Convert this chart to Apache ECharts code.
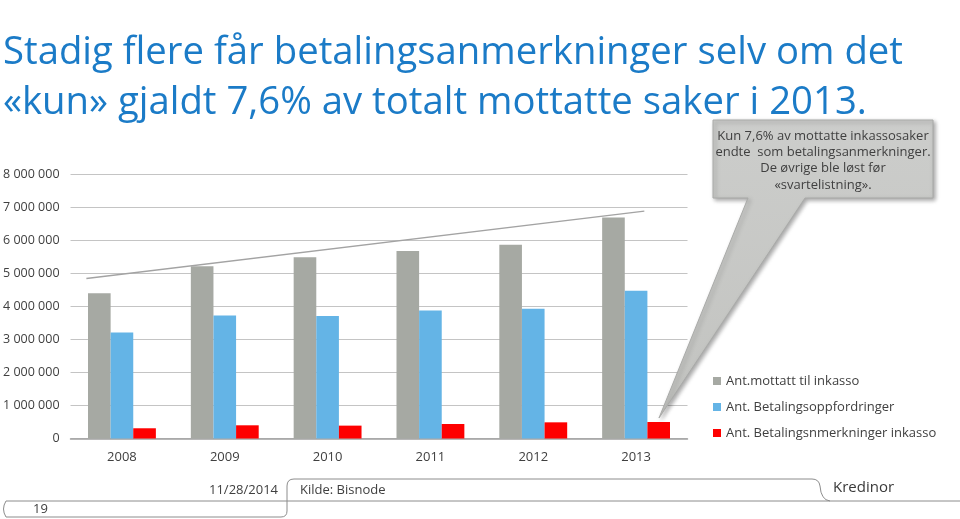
<!DOCTYPE html>
<html>
<head>
<meta charset="utf-8">
<script src="https://cdn.jsdelivr.net/npm/echarts@6/dist/echarts.min.js"></script>
<style>html,body{margin:0;padding:0;background:#fff;}#c{width:960px;height:519px;}</style>
</head>
<body>
<div id="c"></div>
<script>
const years = ['2008','2009','2010','2011','2012','2013'];
const mottatt = [4400000, 5220000, 5490000, 5680000, 5870000, 6700000];
const oppfordringer = [3210000, 3730000, 3710000, 3880000, 3930000, 4480000];
const anmerkninger = [310000, 400000, 390000, 440000, 490000, 500000];
const seriesNames = ['Ant.mottatt til inkasso', 'Ant. Betalingsoppfordringer', 'Ant. Betalingsnmerkninger inkasso'];
const trendLine = [[-0.346, 4850000], [5.08, 6890000]];
const titleLines = ['Stadig flere får betalingsanmerkninger selv om det', '«kun» gjaldt 7,6% av totalt mottatte saker i 2013.'];
const calloutLines = ['Kun 7,6% av mottatte inkassosaker', 'endte  som betalingsanmerkninger.', 'De øvrige ble løst før', '«svartelistning».'];

const FONT = '"Open Sans", "Noto Sans", sans-serif';
const txt = '#404040';
const colors = ['#a6a9a3', '#64b4e6', '#fe0000'];

const ctx = document.createElement('canvas').getContext('2d');
function fitSize(s, w) {
  ctx.font = '100px "Open Sans"';
  return Math.floor(100 * w / ctx.measureText(s).width * 10) / 10;
}
const titleSize = fitSize(titleLines[0], 902);

function fmt(v) {
  return String(v).replace(/\B(?=(\d{3})+(?!\d))/g, ' ');
}

const chart = echarts.init(document.getElementById('c'));
const graphics = [];
titleLines.forEach((t, i) => {
  graphics.push({type: 'text', x: 3, y: 34 + i * 50, style: {text: t, fill: '#1b7bc7', font: titleSize + 'px ' + FONT, textVerticalAlign: 'alphabetic'}});
});
// callout
graphics.push({
  type: 'polygon', z: 10,
  shape: {points: [[713,120],[933,120],[933,198],[805,198],[659,418],[748,198],[713,198]]},
  style: {fill: new echarts.graphic.LinearGradient(0,0,0,1,[{offset:0,color:'#cccdcb'},{offset:1,color:'#c2c3c0'}]), stroke: '#a9aaa8', lineWidth: 1, shadowBlur: 4, shadowOffsetX: 2, shadowOffsetY: 2, shadowColor: 'rgba(0,0,0,0.35)'}
});
calloutLines.forEach((t, i) => {
  graphics.push({type: 'text', z: 11, x: 823, y: 136 + i * 16.3, style: {text: t, fill: txt, font: '13px ' + FONT, textAlign: 'center', textVerticalAlign: 'middle'}});
});
// footer
const fs = {stroke: '#8c8c8c', lineWidth: 1, fill: null};
function ln(x1,y1,x2,y2){ graphics.push({type:'line', shape:{x1,y1,x2,y2}, style: fs}); }
function bz(x1,y1,cx,cy,x2,y2){ graphics.push({type:'bezierCurve', shape:{x1,y1,x2,y2,cpx1:cx,cpy1:cy}, style: fs}); }
ln(6,501,960,501);
bz(6,501,1,509,6,517);
ln(6,517,281,517);
bz(281,517,287,517,287,511);
ln(287,511,287,486);
bz(287,486,287,479,294,479);
ln(294,479,812,479);
bz(812,479,819,479,820,486);
bz(820,486,821,500,830,501);
graphics.push({type: 'text', x: 278, y: 490, style: {text: '11/28/2014', fill: txt, font: '13px ' + FONT, textAlign: 'right', textVerticalAlign: 'middle'}});
graphics.push({type: 'text', x: 300, y: 490, style: {text: 'Kilde: Bisnode', fill: txt, font: '13px ' + FONT, textAlign: 'left', textVerticalAlign: 'middle'}});
graphics.push({type: 'text', x: 33, y: 509, style: {text: '19', fill: txt, font: '13px ' + FONT, textAlign: 'left', textVerticalAlign: 'middle'}});
graphics.push({type: 'text', x: 833, y: 488, style: {text: 'Kredinor', fill: '#3a3a3a', font: '15px ' + FONT, textAlign: 'left', textVerticalAlign: 'middle'}});

chart.setOption({
  animation: false,
  textStyle: {fontFamily: FONT},
  grid: {left: 68.5, right: 272.5, top: 174.5, bottom: 80.5, containLabel: false},
  legend: {
    orient: 'vertical', left: 713, top: 372, padding: 0, itemGap: 8, itemWidth: 8, itemHeight: 8,
    icon: 'rect', data: seriesNames,
    textStyle: {color: txt, fontSize: 13, fontFamily: FONT, lineHeight: 18}
  },
  xAxis: [
    {type: 'category', data: years, axisLine: {lineStyle: {color: '#a0a0a0', width: 1.5}}, axisTick: {show: false},
     axisLabel: {color: txt, fontSize: 13, margin: 12}},
    {type: 'value', min: -0.5, max: 5.5, show: false}
  ],
  yAxis: {
    type: 'value', min: 0, max: 8000000, interval: 1000000,
    axisLine: {show: false}, axisTick: {show: false},
    splitLine: {lineStyle: {color: '#c4c4c4', width: 1.2}},
    axisLabel: {color: txt, fontSize: 12.5, margin: 11, formatter: v => fmt(v)}
  },
  series: [
    {name: seriesNames[0], type: 'bar', data: mottatt, itemStyle: {color: colors[0]}, barGap: '0%', barCategoryGap: '34%'},
    {name: seriesNames[1], type: 'bar', data: oppfordringer, itemStyle: {color: colors[1]}},
    {name: seriesNames[2], type: 'bar', data: anmerkninger, itemStyle: {color: colors[2]}},
    {type: 'line', xAxisIndex: 1, data: trendLine, symbol: 'none', lineStyle: {color: '#a3a3a3', width: 1.5}, z: 5}
  ],
  graphic: graphics
});
</script>
</body>
</html>
